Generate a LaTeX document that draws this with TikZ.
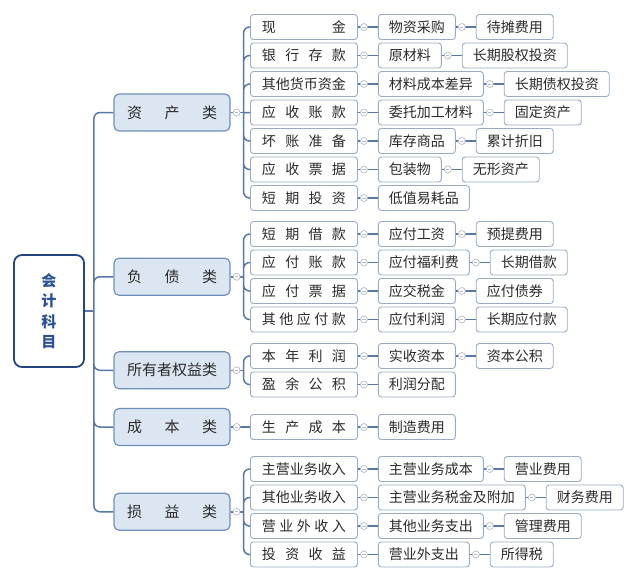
\documentclass[tikz,border=0pt]{standalone}
\usepackage{fontspec}
\setmainfont{Noto Sans CJK SC}
\usetikzlibrary{positioning}
\definecolor{linkblue}{HTML}{5879A6}
\definecolor{rootblue}{HTML}{24467A}
\definecolor{roottext}{HTML}{2D5193}
\definecolor{catfill}{HTML}{DCE6F2}
\definecolor{catline}{HTML}{6F90BB}
\definecolor{boxline}{HTML}{98ABC3}
\definecolor{knobgrey}{HTML}{B4BCC8}
\definecolor{inkgrey}{HTML}{2B2B2B}
\newcommand\sprd[1]{\makebox[6em][s]{#1}}
\newcommand\knob[1]{%
  \draw[knob] ([xshift=6pt]#1.east) circle (3.5pt);
  \draw[knob] ([xshift=4.4pt]#1.east) -- ([xshift=7.6pt]#1.east);}
\tikzset{
  x=1pt, y=-1pt,
  node distance=20pt,
  rootbox/.style={draw=rootblue, line width=1.8pt, rounded corners=8pt, fill=white,
    minimum width=70pt, minimum height=112pt, text=roottext, align=center,
    font=\fontsize{15pt}{20.5pt}\selectfont\bfseries},
  catbox/.style={draw=catline, line width=1.2pt, rounded corners=5pt, fill=catfill,
    minimum width=116pt, minimum height=37pt, inner xsep=0pt, text=inkgrey,
    font=\fontsize{15pt}{18pt}\selectfont},
  acct/.style={draw=boxline, line width=0.9pt, rounded corners=3pt, fill=white,
    minimum width=107pt, minimum height=25pt, inner xsep=0pt, inner ysep=2pt,
    anchor=west, text=inkgrey, font=\fontsize{14pt}{17pt}\selectfont},
  sub/.style={draw=boxline, line width=0.9pt, rounded corners=3pt, fill=white,
    minimum height=25pt, inner xsep=10.5pt, inner ysep=2pt,
    text=inkgrey, font=\fontsize{14pt}{17pt}\selectfont},
  link/.style={draw=linkblue, line width=1.5pt, rounded corners=6pt},
  knob/.style={draw=knobgrey, line width=0.7pt, fill=white},
}
\begin{document}
\begin{tikzpicture}
  \useasboundingbox (0,0) rectangle (640,582);
  % root and categories
  \node[rootbox] (root) at (49,311) {会\\计\\科\\目};
  \node[catbox] (cat1) at (172,112.5) {\sprd{资\hfill 产\hfill 类}};
  \node[catbox] (cat2) at (172,276.75) {\sprd{负\hfill 债\hfill 类}};
  \node[catbox] (cat3) at (172,370.25) {\sprd{所有者权益类}};
  \node[catbox] (cat4) at (172,427) {\sprd{成\hfill 本\hfill 类}};
  \node[catbox] (cat5) at (172,511.75) {\sprd{损\hfill 益\hfill 类}};

  % accounts
  \node[acct] (p1) at (250,27) {\sprd{现\hfill 金}};
  \node[acct] (p2) at (250,55.5) {\sprd{银\hfill 行\hfill 存\hfill 款}};
  \node[acct] (p3) at (250,84) {\sprd{其他货币资金}};
  \node[acct] (p4) at (250,112.5) {\sprd{应\hfill 收\hfill 账\hfill 款}};
  \node[acct] (p5) at (250,141) {\sprd{坏\hfill 账\hfill 准\hfill 备}};
  \node[acct] (p6) at (250,169.5) {\sprd{应\hfill 收\hfill 票\hfill 据}};
  \node[acct] (p7) at (250,198) {\sprd{短\hfill 期\hfill 投\hfill 资}};
  \node[acct] (p8) at (250,234) {\sprd{短\hfill 期\hfill 借\hfill 款}};
  \node[acct] (p9) at (250,262.5) {\sprd{应\hfill 付\hfill 账\hfill 款}};
  \node[acct] (p10) at (250,291) {\sprd{应\hfill 付\hfill 票\hfill 据}};
  \node[acct] (p11) at (250,319.5) {\sprd{其\hfill 他\hfill 应\hfill 付\hfill 款}};
  \node[acct] (p12) at (250,356) {\sprd{本\hfill 年\hfill 利\hfill 润}};
  \node[acct] (p13) at (250,384.5) {\sprd{盈\hfill 余\hfill 公\hfill 积}};
  \node[acct] (p14) at (250,427) {\sprd{生\hfill 产\hfill 成\hfill 本}};
  \node[acct] (p15) at (250,469) {\sprd{主营业务收入}};
  \node[acct] (p16) at (250,497.5) {\sprd{其他业务收入}};
  \node[acct] (p17) at (250,526) {\sprd{营\hfill 业\hfill 外\hfill 收\hfill 入}};
  \node[acct] (p18) at (250,554.5) {\sprd{投\hfill 资\hfill 收\hfill 益}};

  % second column
  \node[sub, right=of p1] (q1) {物资采购};
  \node[sub, right=of p2] (q2) {原材料};
  \node[sub, right=of p3] (q3) {材料成本差异};
  \node[sub, right=of p4] (q4) {委托加工材料};
  \node[sub, right=of p5] (q5) {库存商品};
  \node[sub, right=of p6] (q6) {包装物};
  \node[sub, right=of p7] (q7) {低值易耗品};
  \node[sub, right=of p8] (q8) {应付工资};
  \node[sub, right=of p9] (q9) {应付福利费};
  \node[sub, right=of p10] (q10) {应交税金};
  \node[sub, right=of p11] (q11) {应付利润};
  \node[sub, right=of p12] (q12) {实收资本};
  \node[sub, right=of p13] (q13) {利润分配};
  \node[sub, right=of p14] (q14) {制造费用};
  \node[sub, right=of p15] (q15) {主营业务成本};
  \node[sub, right=of p16] (q16) {主营业务税金及附加};
  \node[sub, right=of p17] (q17) {其他业务支出};
  \node[sub, right=of p18] (q18) {营业外支出};

  % third column
  \node[sub, right=of q1] (r1) {待摊费用};
  \node[sub, right=of q2] (r2) {长期股权投资};
  \node[sub, right=of q3] (r3) {长期债权投资};
  \node[sub, right=of q4] (r4) {固定资产};
  \node[sub, right=of q5] (r5) {累计折旧};
  \node[sub, right=of q6] (r6) {无形资产};
  \node[sub, right=of q8] (r8) {预提费用};
  \node[sub, right=of q9] (r9) {长期借款};
  \node[sub, right=of q10] (r10) {应付债券};
  \node[sub, right=of q11] (r11) {长期应付款};
  \node[sub, right=of q12] (r12) {资本公积};
  \node[sub, right=of q15] (r15) {营业费用};
  \node[sub, right=of q16] (r16) {财务费用};
  \node[sub, right=of q17] (r17) {管理费用};
  \node[sub, right=of q18] (r18) {所得税};

  % hubs where the branches fork
  \coordinate (hub0) at ([xshift=9pt]root.east);
  \foreach \i in {1,...,5}
    \coordinate (hub\i) at ([xshift=13pt]cat\i.east);

  % links
  \draw[link] (root.east) -- (hub0);
  \draw[link] (hub0) |- (cat1.west) (hub0) |- (cat2.west) (hub0) |- (cat3.west)
    (hub0) |- (cat4.west) (hub0) |- (cat5.west);
  \foreach \i in {1,...,5}
    \draw[link] (cat\i.east) -- (hub\i);
  \draw[link] (hub1) |- (p1.west) (hub1) |- (p2.west) (hub1) |- (p3.west)
    (hub1) -- (p4.west) (hub1) |- (p5.west) (hub1) |- (p6.west) (hub1) |- (p7.west);
  \draw[link] (hub2) |- (p8.west) (hub2) |- (p9.west) (hub2) |- (p10.west)
    (hub2) |- (p11.west);
  \draw[link] (hub3) |- (p12.west) (hub3) |- (p13.west);
  \draw[link] (hub4) -- (p14.west);
  \draw[link] (hub5) |- (p15.west) (hub5) |- (p16.west) (hub5) |- (p17.west)
    (hub5) |- (p18.west);
  \foreach \i in {1,...,18}
    \draw[link] (p\i.east) -- (q\i.west);
  \foreach \i in {1,2,3,4,5,6,8,9,10,11,12,15,16,17,18}
    \draw[link] (q\i.east) -- (r\i.west);

  % collapse knobs
  \foreach \n in {cat1,cat2,cat3,cat4,cat5}
    {\knob{\n}}
  \foreach \i in {1,...,18}
    {\knob{p\i}}
  \foreach \i in {1,2,3,4,5,6,8,9,10,11,12,15,16,17,18}
    {\knob{q\i}}
\end{tikzpicture}
\end{document}
